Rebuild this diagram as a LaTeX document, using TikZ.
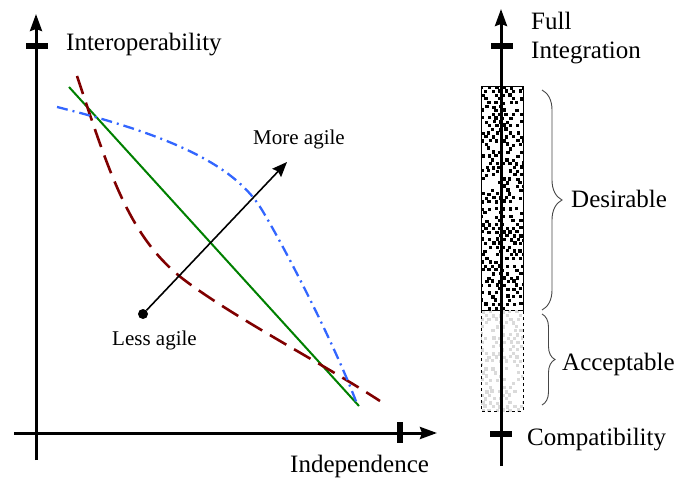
\documentclass[tikz,border=0pt]{standalone}
\usepackage{fontspec}
\setmainfont{Liberation Serif}
\usetikzlibrary{arrows.meta,decorations.pathreplacing}
\definecolor{curvegreen}{RGB}{0,128,0}
\definecolor{curvered}{RGB}{128,0,0}
\definecolor{curveblue}{RGB}{51,102,255}
\definecolor{speckgray}{RGB}{218,218,218}
\definecolor{bracegray}{RGB}{70,70,70}

% staggered random square speckles filling a rectangle: x0 y0 x1 y1 colour
\newcommand\speckle[5]{%
  \begin{scope}
    \clip (#1,#2) rectangle (#3,#4);
    \pgfmathtruncatemacro\ncols{(#3-#1)/7+1}
    \pgfmathtruncatemacro\nrows{(#4-#2)/3.8+1}
    \foreach \cj in {0,...,\nrows}{
      \foreach \ci in {-1,...,\ncols}{
        \pgfmathsetmacro\rv{rnd}
        \ifdim\rv pt<0.72pt
          \pgfmathsetmacro\xx{#1+7*\ci+3.5*mod(\cj,2)+rnd*2.2-1.1}
          \pgfmathsetmacro\yy{#2+3.8*\cj+rnd*1.2-0.6}
          \fill[#5] (\xx,\yy) rectangle ++(3.3,3.3);
        \fi
      }}
  \end{scope}}

\begin{document}
\begin{tikzpicture}[x=1pt,y=-1pt,
  axis/.style={line width=3pt,-{Stealth[length=17pt,width=12pt,inset=2pt]}},
  tickmark/.style={line width=6pt},
  axislabel/.style={font=\fontsize{25}{29}\selectfont,inner sep=0pt},
  agilelabel/.style={font=\fontsize{21}{25}\selectfont,inner sep=0pt},
  curveA/.style={curvegreen,line width=2pt},
  curveB/.style={curvered,line width=2.6pt,dash pattern=on 19pt off 9pt},
  curveC/.style={curveblue,line width=2.3pt,dash pattern=on 11pt off 5pt on 2pt off 5pt},
  bracestyle/.style={decorate,bracegray,line width=0.9pt},
]
\useasboundingbox (0,0) rectangle (677,478);

% ---------- left chart: axes ----------
\coordinate (xstart) at (14,433);
\coordinate (xend) at (437,433);
\coordinate (ystart) at (36,460);
\coordinate (yend) at (36,14);
\draw[axis] (xstart) -- (xend);
\draw[axis] (ystart) -- (yend);
\draw[tickmark] (400,422) -- (400,443);
\draw[tickmark] (26,46) -- (48,46);

\node[axislabel,anchor=base west] (ylabel) at (66,51) {Interoperability};
\node[axislabel,anchor=base west] (xlabel) at (290,472) {Independence};

% ---------- left chart: curves ----------
\coordinate (gA) at (69,87);
\coordinate (gB) at (359,406);
\draw[curveA] (gA) -- (gB);

\coordinate (rA) at (77,76);
\coordinate (rB) at (187,282);
\coordinate (rC) at (380,401);
\draw[curveB] (rA) .. controls (110,175) and (130,240) .. (rB)
                   .. controls (240,321) and (320,362) .. (rC);

\coordinate (bA) at (57,107);
\coordinate (bB) at (262,210);
\coordinate (bC) at (357,404);
\draw[curveC] (bA) .. controls (170,135) and (235,165) .. (bB)
                   .. controls (285,248) and (335,345) .. (bC);

% ---------- agility arrow ----------
\node[circle,fill=black,inner sep=0pt,minimum size=10pt] (less) at (143,314) {};
\coordinate (more) at (287,162);
\draw[line width=1.6pt,-{Stealth[length=15pt,width=12pt,inset=2pt]}] (less) -- (more);
\node[agilelabel,anchor=base west] (lesslabel) at (112,345) {Less agile};
\node[agilelabel,anchor=base west] (morelabel) at (253,145) {More agile};

% ---------- right scale: bands ----------
\pgfmathsetseed{11}
\speckle{481}{86}{523}{310}{black}
\draw[line width=0.9pt] (481,86) rectangle (523,310);

\speckle{481}{310}{523}{411}{speckgray}
\draw[line width=0.9pt,dashed] (481,310) rectangle (523,411);

% ---------- right scale: axis ----------
\coordinate (sbottom) at (501,466);
\coordinate (stop) at (501,9);
\draw[axis] (sbottom) -- (stop);
\draw[tickmark] (491,46) -- (513,46);
\draw[tickmark] (490,434) -- (512,434);

\node[axislabel,anchor=base west] (full) at (531,30) {Full};
\node[axislabel,anchor=base west] (integ) at (531,59) {Integration};
\node[axislabel,anchor=base west] (compat) at (527,445) {Compatibility};

% ---------- braces ----------
\coordinate (dtop) at (542,90);
\coordinate (dbot) at (542,310);
\draw[bracestyle,decoration={brace,amplitude=20pt}] (dtop) -- (dbot);
\node[axislabel,anchor=base west] (desirable) at (571,208) {Desirable};

\coordinate (atop) at (542,314);
\coordinate (abot) at (542,405);
\draw[bracestyle,decoration={brace,amplitude=13pt}] (atop) -- (abot);
\node[axislabel,anchor=base west] (acceptable) at (562,370) {Acceptable};
\end{tikzpicture}
\end{document}
